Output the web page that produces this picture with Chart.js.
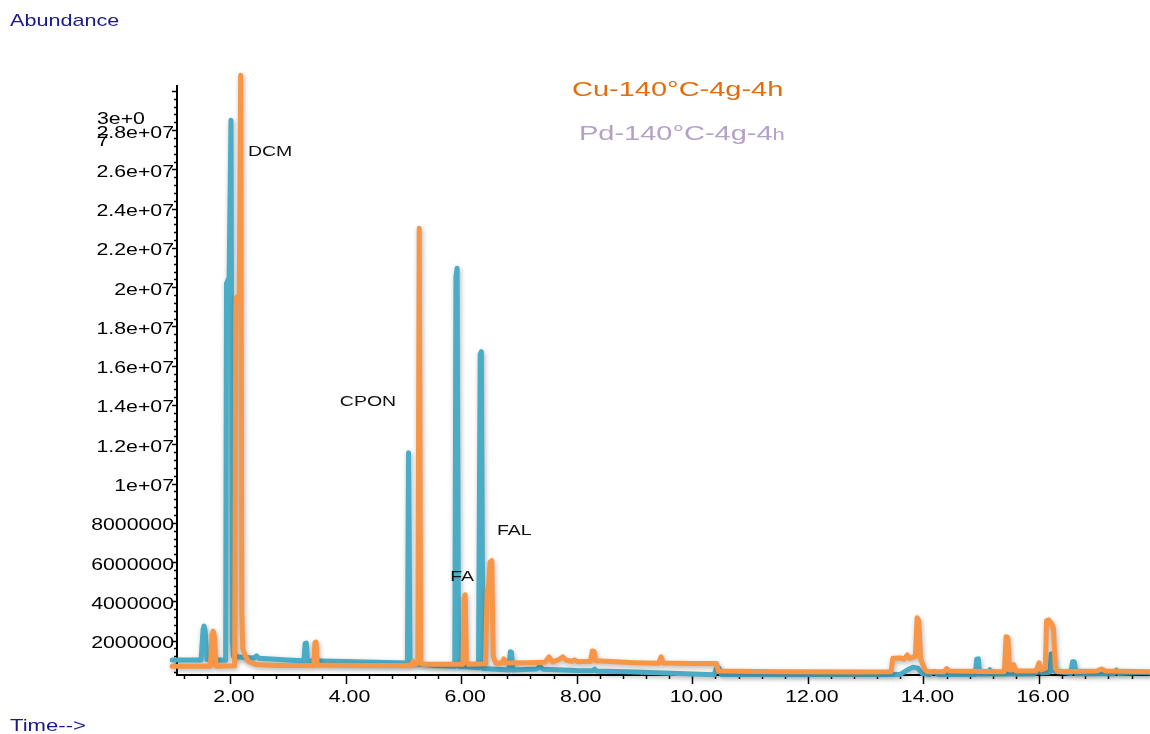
<!DOCTYPE html>
<html>
<head>
<meta charset="utf-8">
<script src="https://cdn.jsdelivr.net/npm/chart.js@4.4.0/dist/chart.umd.min.js"></script>
<style>
  html, body { margin: 0; padding: 0; background: #fff; }
  #wrap { width: 1150px; height: 734px; }
</style>
</head>
<body>
<div id="wrap"><canvas id="tic" width="1150" height="734"></canvas></div>
<script>
// TIC traces: retention time (min) / abundance
const cuTime = [1.00, 1.66, 1.69, 1.71, 1.73, 1.76, 2.08, 2.10, 2.11, 2.16, 2.185, 2.205, 2.22, 2.26, 2.32, 2.45,
  2.8, 3.2, 3.45, 3.47, 3.49, 3.51, 4.2, 5.0, 5.14, 5.17, 5.20, 5.25, 5.275, 5.30, 5.34, 5.6,
  6.03, 6.055, 6.07, 6.09, 6.12, 6.42, 6.45, 6.47, 6.50, 6.53, 6.555, 6.60, 6.70, 6.74, 6.78,
  7.2, 7.45, 7.52, 7.58, 7.70, 7.76, 7.82, 7.92, 7.96, 8.02, 8.24, 8.27, 8.30, 8.33,
  9.0, 9.42, 9.46, 9.50, 10.0, 10.42, 10.45, 11.5, 13.0, 13.44, 13.47, 13.60, 13.66, 13.72, 13.76,
  13.86, 13.89, 13.92, 13.95, 14.02, 14.06, 14.36, 14.40, 14.45, 15.40, 15.43, 15.46, 15.49, 15.53,
  15.56, 15.60, 15.95, 16.00, 16.04, 16.11, 16.13, 16.17, 16.22, 16.25, 16.28, 16.32, 17.0, 17.08,
  17.15, 17.92];
const cuAbund = [0.70e6, 0.70e6, 2.3e6, 2.49e6, 2.2e6, 0.70e6, 0.72e6, 19.0e6, 19.47e6, 19.6e6, 30.8e6, 3.5e6, 1.6e6, 1.25e6, 0.95e6, 0.78e6,
  0.74e6, 0.74e6, 0.74e6, 1.9e6, 1.93e6, 0.76e6, 0.74e6, 0.74e6, 0.76e6, 0.95e6, 0.80e6, 0.85e6, 23.0e6, 0.85e6, 0.80e6, 0.80e6,
  0.80e6, 4.2e6, 4.33e6, 1.0e6, 0.80e6, 0.82e6, 4.58e6, 4.6e6, 6.0e6, 6.07e6, 1.2e6, 0.85e6, 0.85e6, 1.07e6, 0.86e6,
  0.88e6, 0.90e6, 1.17e6, 0.92e6, 1.05e6, 1.17e6, 1.0e6, 0.95e6, 1.02e6, 0.93e6, 0.95e6, 1.47e6, 1.45e6, 0.97e6,
  0.88e6, 0.85e6, 1.17e6, 0.86e6, 0.83e6, 0.83e6, 0.46e6, 0.42e6, 0.40e6, 0.42e6, 1.1e6, 1.12e6, 1.05e6, 1.27e6, 1.1e6,
  1.2e6, 3.17e6, 3.0e6, 1.1e6, 0.55e6, 0.42e6, 0.42e6, 0.58e6, 0.45e6, 0.42e6, 2.2e6, 2.15e6, 0.50e6, 0.50e6,
  0.78e6, 0.45e6, 0.45e6, 0.87e6, 0.50e6, 0.60e6, 3.02e6, 3.05e6, 2.85e6, 2.6e6, 0.6e6, 0.42e6, 0.45e6, 0.56e6,
  0.45e6, 0.42e6];

const pdTime = [1.00, 1.50, 1.535, 1.55, 1.57, 1.60, 1.90, 1.925, 1.94, 1.985, 2.017, 2.04, 2.06, 2.20, 2.42, 2.46, 2.50,
  3.0, 3.28, 3.30, 3.32, 3.34, 4.0, 5.07, 5.09, 5.115, 5.5, 5.89, 5.91, 5.93, 5.955, 6.30, 6.33, 6.35, 6.375,
  6.83, 6.85, 6.87, 6.89, 7.30, 7.36, 7.42, 8.0, 8.28, 8.31, 8.34, 9.0, 10.0, 10.38, 10.42, 10.46, 10.50,
  12.0, 13.6, 13.72, 13.82, 13.90, 13.98, 14.10, 14.18, 14.25, 14.90, 14.92, 14.95, 14.97, 15.12, 15.15, 15.19,
  15.90, 16.00, 16.05, 16.19, 16.21, 16.24, 16.27, 16.55, 16.58, 16.61, 16.64, 17.30, 17.34, 17.38, 17.85, 17.92];
const pdAbund = [1.02e6, 1.02e6, 2.6e6, 2.75e6, 2.5e6, 1.05e6, 1.0e6, 1.0e6, 20.2e6, 20.5e6, 28.5e6, 2.0e6, 1.2e6, 1.15e6, 1.12e6, 1.22e6, 1.10e6,
  1.02e6, 0.98e6, 1.85e6, 1.88e6, 0.98e6, 0.94e6, 0.86e6, 11.57e6, 0.86e6, 0.74e6, 0.70e6, 20.5e6, 20.97e6, 0.70e6, 0.62e6, 16.6e6, 16.72e6, 0.58e6,
  0.50e6, 1.44e6, 1.40e6, 0.50e6, 0.55e6, 0.67e6, 0.54e6, 0.48e6, 0.47e6, 0.55e6, 0.46e6, 0.40e6, 0.30e6, 0.26e6, 0.60e6, 0.61e6, 0.28e6,
  0.27e6, 0.28e6, 0.50e6, 0.65e6, 0.60e6, 0.32e6, 0.27e6, 0.42e6, 0.28e6, 0.28e6, 1.05e6, 1.07e6, 0.30e6, 0.30e6, 0.52e6, 0.30e6,
  0.30e6, 0.42e6, 0.35e6, 0.40e6, 1.32e6, 1.30e6, 0.45e6, 0.32e6, 0.93e6, 0.92e6, 0.32e6, 0.32e6, 0.50e6, 0.32e6, 0.38e6, 0.35e6];

const seriesNames = ['Cu-140°C-4g-4h', 'Pd-140°C-4g-4h'];
const xTicks = [2, 4, 6, 8, 10, 12, 14, 16];
const xTickLabels = ['2.00', '4.00', '6.00', '8.00', '10.00', '12.00', '14.00', '16.00'];
const yTicks = [2e6, 4e6, 6e6, 8e6, 1e7, 1.2e7, 1.4e7, 1.6e7, 1.8e7, 2e7, 2.2e7, 2.4e7, 2.6e7, 2.8e7];
const yTickLabels = ['2000000', '4000000', '6000000', '8000000', '1e+07', '1.2e+07', '1.4e+07', '1.6e+07',
  '1.8e+07', '2e+07', '2.2e+07', '2.4e+07', '2.6e+07', '2.8e+07'];
// compound names, anchored in (time, abundance)
const peakNames = ['DCM', 'CPON', 'FA', 'FAL'];
const peakLabelTime = [2.31, 3.90, 5.81, 6.62];
const peakLabelAbund = [26.9e6, 14.16e6, 5.24e6, 7.59e6];

const FONT = '"Liberation Sans", Arial, sans-serif';

// text in the export is stretched sideways, so draw it scaled
function wideText(ctx, str, x, y, size, color, align, sx) {
  ctx.save();
  ctx.font = size + 'px ' + FONT;
  ctx.fillStyle = color;
  ctx.textBaseline = 'middle';
  ctx.textAlign = 'left';
  const w = ctx.measureText(str).width * sx;
  let x0 = x;
  if (align === 'right') x0 = x - w;
  else if (align === 'center') x0 = x - w / 2;
  ctx.translate(x0, y);
  ctx.scale(sx, 1);
  ctx.fillText(str, 0, 0);
  ctx.restore();
  return w;
}

const shadowPlugin = {
  id: 'traceShadow',
  beforeDatasetDraw(chart) {
    const c = chart.ctx;
    c.save();
    c.shadowColor = 'rgba(0,0,0,0.3)';
    c.shadowBlur = 5;
    c.shadowOffsetX = 1;
    c.shadowOffsetY = 2;
  },
  afterDatasetDraw(chart) {
    chart.ctx.restore();
  }
};

const axesPlugin = {
  id: 'axesDraw',
  beforeDatasetsDraw(chart) {
    const c = chart.ctx;
    const xs = chart.scales.x, ys = chart.scales.y;
    const a = chart.chartArea;
    c.save();
    c.strokeStyle = '#000';
    c.lineWidth = 2;
    c.beginPath();
    c.moveTo(a.left, a.top);
    c.lineTo(a.left, a.bottom);
    c.lineTo(a.right, a.bottom);
    c.stroke();

    c.lineWidth = 1.5;
    c.beginPath();
    // x ticks, minor every 0.4 min
    for (let i = 3; i * 0.4 <= xs.max; i++) {
      const t = i * 0.4;
      const px = Math.round(xs.getPixelForValue(t)) + 0.5;
      const major = i % 5 === 0;
      c.moveTo(px, a.bottom);
      c.lineTo(px, a.bottom + (major ? 9 : 4));
    }
    // y ticks, minor every 4e5
    for (let i = 1; i * 4e5 <= ys.max; i++) {
      const v = i * 4e5;
      const py = Math.round(ys.getPixelForValue(v)) + 0.5;
      const major = i % 5 === 0;
      c.moveTo(a.left, py);
      c.lineTo(a.left - (major ? 5 : 3), py);
    }
    c.stroke();
    c.restore();
  },
  afterDraw(chart) {
    const c = chart.ctx;
    const xs = chart.scales.x, ys = chart.scales.y;
    const a = chart.chartArea;

    xTicks.forEach((t, i) => {
      wideText(c, xTickLabels[i], xs.getPixelForValue(t) + 4, a.bottom + 23, 16, '#000', 'center', 1.33);
    });
    yTicks.forEach((v, i) => {
      wideText(c, yTickLabels[i], a.left - 3, ys.getPixelForValue(v) + 3, 16, '#000', 'right', 1.33);
    });
    // the 3e+07 label wraps onto two lines below its tick
    const top = ys.getPixelForValue(3e7);
    wideText(c, '3e+0', a.left - 80, top + 29, 16, '#000', 'left', 1.33);
    wideText(c, '7', a.left - 80, top + 51, 16, '#000', 'left', 1.33);

    wideText(c, 'Abundance', 10, 21, 17, '#1a1a8a', 'left', 1.27);
    wideText(c, 'Time-->', 10, 726, 17, '#1a1a8a', 'left', 1.3);

    peakNames.forEach((n, i) => {
      wideText(c, n, xs.getPixelForValue(peakLabelTime[i]), ys.getPixelForValue(peakLabelAbund[i]), 15, '#111', 'left', 1.3);
    });

    // series names
    wideText(c, seriesNames[0], 572, 90, 21, '#e46c0a', 'left', 1.38);
    const pdMain = seriesNames[1].slice(0, -1);
    const w = wideText(c, pdMain, 579, 134, 21, '#b3a2c7', 'left', 1.38);
    wideText(c, seriesNames[1].slice(-1), 579 + w, 136, 16, '#b3a2c7', 'left', 1.38);
  }
};

const toPoints = (ts, vs) => ts.map((t, i) => ({ x: t, y: vs[i] }));

new Chart(document.getElementById('tic'), {
  type: 'line',
  data: {
    datasets: [
      {
        label: seriesNames[0],
        data: toPoints(cuTime, cuAbund),
        borderColor: '#f79646',
        borderWidth: 5,
        borderJoinStyle: 'round',
        borderCapStyle: 'round',
        pointRadius: 0,
        tension: 0,
        clip: false
      },
      {
        label: seriesNames[1],
        data: toPoints(pdTime, pdAbund),
        borderColor: '#4bacc6',
        borderWidth: 5,
        borderJoinStyle: 'round',
        borderCapStyle: 'round',
        pointRadius: 0,
        tension: 0,
        clip: false
      }
    ]
  },
  options: {
    responsive: false,
    animation: false,
    devicePixelRatio: 1,
    layout: { padding: { left: 177, right: 0, top: 85, bottom: 59 } },
    plugins: { legend: { display: false }, tooltip: { enabled: false } },
    scales: {
      x: { type: 'linear', min: 1.083, max: 17.92, display: false },
      y: { type: 'linear', min: 0.25e6, max: 3.03e7, display: false }
    }
  },
  plugins: [shadowPlugin, axesPlugin]
});
</script>
</body>
</html>
